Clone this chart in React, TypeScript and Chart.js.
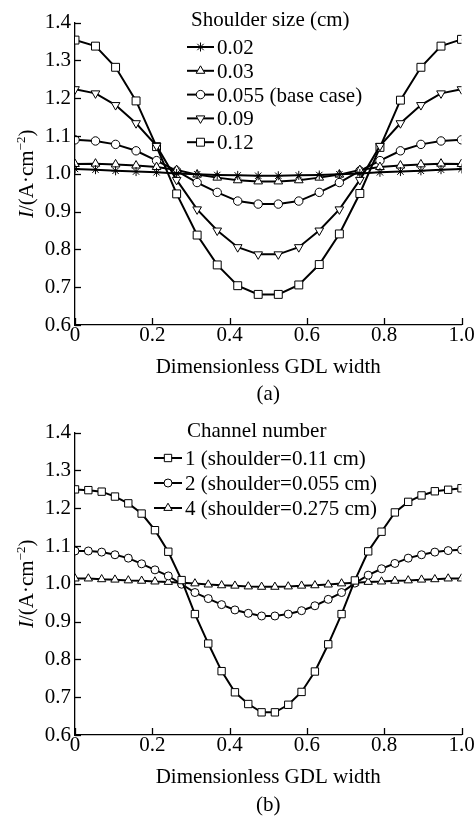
import React, { useEffect, useRef } from 'react';
import { Chart, registerables } from 'chart.js';
import { drawPoint } from 'chart.js/helpers';

Chart.register(...registerables);

const FONT = '"Liberation Serif", "Times New Roman", serif';

// ---------- Data: panel (a) ----------
const xA = [0, 0.053, 0.105, 0.158, 0.211, 0.263, 0.316, 0.368, 0.421, 0.474, 0.526, 0.579, 0.632, 0.684, 0.737, 0.789, 0.842, 0.895, 0.947, 1];
const a002 = [1.013, 1.011, 1.008, 1.006, 1.004, 1.001, 0.999, 0.997, 0.996, 0.995, 0.995, 0.996, 0.997, 0.999, 1.001, 1.004, 1.006, 1.008, 1.011, 1.013];
const a003 = [1.026, 1.027, 1.025, 1.022, 1.018, 1.010, 0.998, 0.990, 0.983, 0.980, 0.980, 0.983, 0.990, 0.998, 1.010, 1.018, 1.022, 1.025, 1.027, 1.026];
const a0055 = [1.090, 1.087, 1.078, 1.061, 1.035, 1.008, 0.977, 0.951, 0.928, 0.920, 0.920, 0.928, 0.951, 0.977, 1.008, 1.035, 1.061, 1.078, 1.087, 1.090];
const a009 = [1.224, 1.213, 1.182, 1.134, 1.074, 0.984, 0.906, 0.850, 0.806, 0.787, 0.787, 0.806, 0.850, 0.906, 0.984, 1.074, 1.134, 1.182, 1.213, 1.224];
const a012 = [1.354, 1.338, 1.282, 1.193, 1.072, 0.947, 0.838, 0.759, 0.704, 0.681, 0.681, 0.706, 0.760, 0.841, 0.948, 1.070, 1.195, 1.282, 1.338, 1.356];
const labelsA = ['0.02', '0.03', '0.055 (base case)', '0.09', '0.12'];
const legendTitleA = 'Shoulder size (cm)';

// ---------- Data: panel (b) ----------
const xB = [0, 0.0345, 0.069, 0.1034, 0.1379, 0.1724, 0.2069, 0.2414, 0.2759, 0.3103, 0.3448, 0.3793, 0.4138, 0.4483, 0.4828, 0.5172, 0.5517, 0.5862, 0.6207, 0.6552, 0.6897, 0.7241, 0.7586, 0.7931, 0.8276, 0.8621, 0.8966, 0.931, 0.9655, 1];
const b1 = [1.250, 1.248, 1.244, 1.231, 1.213, 1.186, 1.142, 1.085, 1.010, 0.920, 0.842, 0.769, 0.713, 0.682, 0.660, 0.660, 0.680, 0.714, 0.768, 0.840, 0.920, 1.009, 1.086, 1.138, 1.189, 1.217, 1.234, 1.245, 1.249, 1.253];
const b2 = [1.087, 1.087, 1.084, 1.077, 1.068, 1.053, 1.037, 1.021, 0.999, 0.977, 0.961, 0.945, 0.931, 0.922, 0.915, 0.915, 0.920, 0.929, 0.942, 0.959, 0.977, 1.002, 1.023, 1.040, 1.054, 1.068, 1.077, 1.084, 1.088, 1.090];
const b4 = [1.014, 1.014, 1.012, 1.011, 1.009, 1.008, 1.006, 1.005, 1.003, 1.001, 0.998, 0.996, 0.995, 0.993, 0.992, 0.992, 0.993, 0.995, 0.996, 0.998, 1.001, 1.003, 1.005, 1.006, 1.008, 1.009, 1.011, 1.012, 1.014, 1.014];
const labelsB = ['1 (shoulder=0.11 cm)', '2 (shoulder=0.055 cm)', '4 (shoulder=0.275 cm)'];
const legendTitleB = 'Channel number';

const xTicks = [0, 0.2, 0.4, 0.6, 0.8, 1.0];
const X_TITLE = 'Dimensionless GDL width';

type Marker = { style: string; radius: number; rotation: number };

function toPts(xs: number[], ys: number[]) {
  return xs.map((x, i) => ({ x, y: ys[i] }));
}

function ds(label: string, xs: number[], ys: number[], m: Marker) {
  return {
    label,
    data: toPts(xs, ys),
    borderColor: '#000',
    borderWidth: 2,
    backgroundColor: '#fff',
    pointStyle: m.style,
    pointRadius: m.radius,
    pointRotation: m.rotation,
    pointBackgroundColor: '#fff',
    pointBorderColor: '#000',
    pointBorderWidth: 1,
    tension: 0,
    fill: false,
    _marker: m,
  } as any;
}

type PanelCfg = {
  key: string;
  height: number;
  caption: string;
  legendTitle: string;
  legendTitleX: number;
  legendTitleY: number;
  lineX0: number;
  lineX1: number;
  textX: number;
  firstY: number;
  step: number;
  xTitleY: number;
  captionY: number;
};

function makePlugin(cfg: PanelCfg) {
  return {
    id: 'deco_' + cfg.key,
    afterDraw(chart: any) {
      const ctx: CanvasRenderingContext2D = chart.ctx;
      const { left, right, top, bottom } = chart.chartArea;
      const xs = chart.scales.x;
      const ys = chart.scales.y;
      ctx.save();
      ctx.strokeStyle = '#000';
      ctx.lineWidth = 1.3;
      ys.ticks.forEach((t: any) => {
        const p = Math.round(ys.getPixelForValue(t.value)) + 0.5;
        ctx.beginPath();
        ctx.moveTo(left, p);
        ctx.lineTo(left + 6, p);
        ctx.stroke();
      });
      xs.ticks.forEach((t: any) => {
        const p = Math.round(xs.getPixelForValue(t.value)) + 0.5;
        ctx.beginPath();
        ctx.moveTo(p, bottom);
        ctx.lineTo(p, bottom - 7);
        ctx.stroke();
      });

      ctx.fillStyle = '#000';
      ctx.font = `21px ${FONT}`;
      ctx.textAlign = 'center';
      ctx.textBaseline = 'alphabetic';
      const cx = (left + right) / 2;
      ctx.fillText(X_TITLE, cx, cfg.xTitleY);
      ctx.fillText(cfg.caption, cx, cfg.captionY);

      // y title, rotated, with italic I and superscript
      const parts = [
        { t: 'I', f: `italic 21px ${FONT}`, dy: 0 },
        { t: '/(A·cm', f: `21px ${FONT}`, dy: 0 },
        { t: '−2', f: `13px ${FONT}`, dy: -8 },
        { t: ')', f: `21px ${FONT}`, dy: 0 },
      ];
      let total = 0;
      const widths = parts.map((p) => {
        ctx.font = p.f;
        const w = ctx.measureText(p.t).width;
        total += w;
        return w;
      });
      ctx.save();
      ctx.translate(33, (top + bottom) / 2);
      ctx.rotate(-Math.PI / 2);
      ctx.textAlign = 'left';
      let pos = -total / 2;
      parts.forEach((p, i) => {
        ctx.font = p.f;
        ctx.fillText(p.t, pos, p.dy);
        pos += widths[i];
      });
      ctx.restore();

      // legend
      ctx.textAlign = 'left';
      ctx.font = `21px ${FONT}`;
      ctx.fillText(cfg.legendTitle, cfg.legendTitleX, cfg.legendTitleY);
      chart.data.datasets.forEach((d: any, i: number) => {
        const by = cfg.firstY + i * cfg.step;
        const ly = by - 7;
        ctx.strokeStyle = '#000';
        ctx.lineWidth = 2;
        ctx.beginPath();
        ctx.moveTo(cfg.lineX0, ly);
        ctx.lineTo(cfg.lineX1, ly);
        ctx.stroke();
        const m: Marker = d._marker;
        ctx.fillStyle = '#fff';
        ctx.strokeStyle = '#000';
        ctx.lineWidth = 1;
        drawPoint(ctx, { pointStyle: m.style as any, radius: m.radius, rotation: m.rotation, borderWidth: 1 }, (cfg.lineX0 + cfg.lineX1) / 2, ly);
        ctx.fillStyle = '#000';
        ctx.font = `21px ${FONT}`;
        ctx.fillText(d.label, cfg.textX, by);
      });
      ctx.restore();
    },
  };
}

function buildOptions(padBottom: number) {
  return {
    responsive: false,
    animation: false,
    devicePixelRatio: 1,
    layout: { padding: { left: 0, right: 14.5, top: 22.7, bottom: padBottom } },
    plugins: { legend: { display: false }, tooltip: { enabled: false }, title: { display: false } },
    scales: {
      x: {
        type: 'linear',
        min: 0,
        max: 1,
        afterFit: (s: any) => { s.height = 30; },
        afterBuildTicks: (s: any) => { s.ticks = xTicks.map((v) => ({ value: v })); },
        grid: { display: false, drawTicks: false },
        border: { display: true, color: '#000', width: 1.3 },
        ticks: {
          color: '#000',
          padding: -2,
          font: { family: FONT, size: 21 },
          maxRotation: 0,
          autoSkip: false,
          callback: (v: any) => (Number(v) === 0 ? '0' : Number(v).toFixed(1)),
        },
      },
      y: {
        type: 'linear',
        min: 0.6,
        max: 1.4,
        afterFit: (s: any) => { s.width = 75; },
        grid: { display: false, drawTicks: false },
        border: { display: true, color: '#000', width: 1.3 },
        ticks: {
          color: '#000',
          stepSize: 0.1,
          padding: 4,
          font: { family: FONT, size: 21 },
          callback: (v: any) => Number(v).toFixed(1),
        },
      },
    },
  } as any;
}

const cfgA: PanelCfg = {
  key: 'a', height: 410, caption: '(a)', legendTitle: legendTitleA,
  legendTitleX: 191, legendTitleY: 26, lineX0: 187, lineX1: 214, textX: 217,
  firstY: 54, step: 23.8, xTitleY: 372.5, captionY: 400,
};
const cfgB: PanelCfg = {
  key: 'b', height: 406, caption: '(b)', legendTitle: legendTitleB,
  legendTitleX: 187, legendTitleY: 26.7, lineX0: 154, lineX1: 182, textX: 185,
  firstY: 55, step: 25, xTitleY: 373, captionY: 401,
};

export default function App() {
  const refA = useRef<HTMLCanvasElement>(null);
  const refB = useRef<HTMLCanvasElement>(null);

  useEffect(() => {
    const chartA = new Chart(refA.current as HTMLCanvasElement, {
      type: 'line',
      data: {
        datasets: [
          ds(labelsA[0], xA, a002, { style: 'star', radius: 4.5, rotation: 0 }),
          ds(labelsA[1], xA, a003, { style: 'triangle', radius: 5, rotation: 0 }),
          ds(labelsA[2], xA, a0055, { style: 'circle', radius: 4.2, rotation: 0 }),
          ds(labelsA[3], xA, a009, { style: 'triangle', radius: 5, rotation: 180 }),
          ds(labelsA[4], xA, a012, { style: 'rect', radius: 5.6, rotation: 0 }),
        ],
      },
      options: buildOptions(cfgA.height - 325 - 30),
      plugins: [makePlugin(cfgA)],
    } as any);
    const chartB = new Chart(refB.current as HTMLCanvasElement, {
      type: 'line',
      data: {
        datasets: [
          ds(labelsB[0], xB, b1, { style: 'rect', radius: 5.2, rotation: 0 }),
          ds(labelsB[1], xB, b2, { style: 'circle', radius: 4, rotation: 0 }),
          ds(labelsB[2], xB, b4, { style: 'triangle', radius: 4.8, rotation: 0 }),
        ],
      },
      options: buildOptions(cfgB.height - 325 - 30),
      plugins: [makePlugin(cfgB)],
    } as any);
    return () => {
      chartA.destroy();
      chartB.destroy();
    };
  }, []);

  return (
    <div style={{ position: 'absolute', left: 0, top: 0, width: 476, height: 816, background: '#fff' }}>
      <canvas ref={refA} width={476} height={cfgA.height} style={{ display: 'block', width: 476, height: cfgA.height }} />
      <canvas ref={refB} width={476} height={cfgB.height} style={{ display: 'block', width: 476, height: cfgB.height }} />
    </div>
  );
}
